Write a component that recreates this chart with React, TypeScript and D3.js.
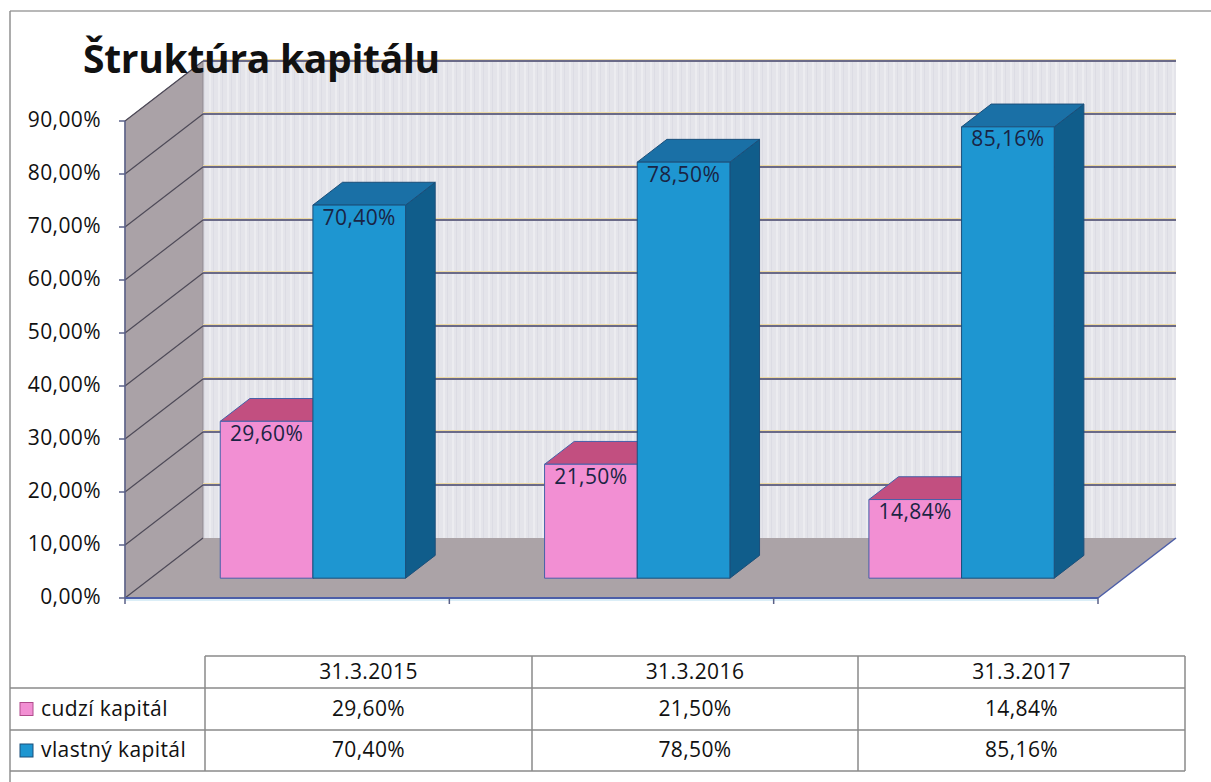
import React from "react";
import * as d3 from "d3";

const categories = ["31.3.2015", "31.3.2016", "31.3.2017"];
const cudziKapital = [29.6, 21.5, 14.84];
const vlastnyKapital = [70.4, 78.5, 85.16];
const seriesNames = ["cudzí kapitál", "vlastný kapitál"];
const yTickValues = [0, 10, 20, 30, 40, 50, 60, 70, 80, 90];
const title = "Štruktúra kapitálu";

const W = 1211;
const H = 782;
const FONT = "'Open Sans', 'Noto Sans', sans-serif";
const FS = 21;
const LS = 0.4;

const fmt = (v: number) => v.toFixed(2).replace(".", ",") + "%";

export default function App() {
  const x = d3.scaleBand<string>().domain(categories).range([125, 1098]);
  const y = d3.scaleLinear().domain([0, 90]).range([598, 121]);
  const DX = 78;
  const DY = -60;
  const sub = d3
    .scaleBand<string>()
    .domain(["c", "v"])
    .range([0, x.bandwidth()])
    .paddingInner(0)
    .paddingOuter(0.75);
  const bw = sub.bandwidth();
  const F = 0.33;
  const B = 0.71;

  const pts = (p: number[][]) => p.map((q) => q.join(",")).join(" ");

  const x0 = x.range()[0];
  const x1 = x.range()[1];
  const y0 = y(0);
  const yTop = y(90);

  const bars: any[] = [];
  const labels: any[] = [];
  categories.forEach((cat, i) => {
    const defs = [
      { key: "c", v: cudziKapital[i], front: "#f28fd3", top: "#c24f80", side: "#a83a6a", stroke: "#4660a8" },
      { key: "v", v: vlastnyKapital[i], front: "#1e96d1", top: "#1a70a6", side: "#105d8b", stroke: "#1b4f7a" },
    ];
    defs.forEach((d) => {
      const xl = (x(cat) as number) + (sub(d.key) as number);
      const xr = xl + bw;
      const yv = y(d.v);
      const front = [
        [xl + F * DX, yv + F * DY],
        [xr + F * DX, yv + F * DY],
        [xr + F * DX, y0 + F * DY],
        [xl + F * DX, y0 + F * DY],
      ];
      const top = [
        [xl + F * DX, yv + F * DY],
        [xr + F * DX, yv + F * DY],
        [xr + B * DX, yv + B * DY],
        [xl + B * DX, yv + B * DY],
      ];
      const side = [
        [xr + F * DX, yv + F * DY],
        [xr + B * DX, yv + B * DY],
        [xr + B * DX, y0 + B * DY],
        [xr + F * DX, y0 + F * DY],
      ];
      bars.push(
        <g key={cat + d.key}>
          <polygon points={pts(side)} fill={d.side} stroke={d.stroke} strokeWidth={1} />
          <polygon points={pts(top)} fill={d.top} stroke={d.stroke} strokeWidth={1} />
          <polygon points={pts(front)} fill={d.front} stroke={d.stroke} strokeWidth={1} />
        </g>
      );
      labels.push(
        <text
          key={"l" + cat + d.key}
          x={(xl + xr) / 2 + F * DX}
          y={yv + F * DY + 14}
          textAnchor="middle"
          dominantBaseline="middle"
          fontFamily={FONT}
          fontSize={FS}
          letterSpacing={LS}
          fill="#1a2444"
        >
          {fmt(d.v)}
        </text>
      );
    });
  });

  // table geometry
  const tTop = 656;
  const rowB = [656, 688, 730, 771];
  const colX = [205, 532, 858, 1185];
  const legL = 10;

  return (
    <svg
      width={W}
      height={H}
      style={{ position: "absolute", left: 0, top: 0, background: "#fff" }}
    >
      <defs>
        <pattern id="wallTex" width="9" height="20" patternUnits="userSpaceOnUse">
          <rect width="9" height="20" fill="#e4e4ea" />
          <rect x="2" width="2" height="20" fill="#ececf0" />
          <rect x="6" width="1" height="20" fill="#dcdce4" />
        </pattern>
      </defs>

      {/* outer frame */}
      <line x1={10} y1={11} x2={W} y2={11} stroke="#a0a0a0" strokeWidth={1.5} />
      <line x1={10} y1={11} x2={10} y2={H} stroke="#909090" strokeWidth={1.5} />

      {/* back wall */}
      <rect x={x0 + DX} y={yTop + DY} width={x1 - x0} height={y0 - yTop} fill="url(#wallTex)" />
      {/* side wall */}
      <polygon
        points={pts([
          [x0, yTop],
          [x0 + DX, yTop + DY],
          [x0 + DX, y0 + DY],
          [x0, y0],
        ])}
        fill="#aaa2a7"
        stroke="#8e8890"
        strokeWidth={1}
      />
      {/* floor */}
      <polygon
        points={pts([
          [x0, y0],
          [x1, y0],
          [x1 + DX, y0 + DY],
          [x0 + DX, y0 + DY],
        ])}
        fill="#aba3a7"
      />
      <line x1={x1} y1={y0} x2={x1 + DX} y2={y0 + DY} stroke="#4c5ea8" strokeWidth={1.5} />

      {/* gridlines */}
      {yTickValues.map((t) => (
        <g key={"g" + t}>
          {t > 0 && (
            <>
              <line x1={x0 + DX} x2={x1 + DX} y1={y(t) + DY - 1.5} y2={y(t) + DY - 1.5} stroke="#ecd9a2" strokeWidth={1} />
              <line x1={x0 + DX} x2={x1 + DX} y1={y(t) + DY} y2={y(t) + DY} stroke="#6a6a88" strokeWidth={2} />
            </>
          )}
          <line x1={x0} y1={y(t)} x2={x0 + DX} y2={y(t) + DY} stroke="#4e4a58" strokeWidth={1.2} />
        </g>
      ))}

      {/* y axis */}
      <line x1={x0} y1={yTop} x2={x0} y2={y0} stroke="#5a6088" strokeWidth={1.5} />
      {yTickValues.map((t) => (
        <g key={"t" + t}>
          <line x1={x0 - 6} x2={x0} y1={y(t)} y2={y(t)} stroke="#5a6088" strokeWidth={1.5} />
          <text
            x={101}
            y={y(t)}
            textAnchor="end"
            dominantBaseline="middle"
            fontFamily={FONT}
            fontSize={FS}
            letterSpacing={LS}
            fill="#111"
          >
            {fmt(t)}
          </text>
        </g>
      ))}

      {/* x axis */}
      <line x1={x0} y1={y0} x2={x1} y2={y0} stroke="#4c5ea8" strokeWidth={2} />
      <line x1={x0} y1={y0 + 2} x2={x1} y2={y0 + 2} stroke="#cfe8f5" strokeWidth={1.5} />
      {[...categories.map((c) => x(c) as number), x1].map((xx, i) => (
        <line key={"xt" + i} x1={xx} x2={xx} y1={y0} y2={y0 + 6} stroke="#5a6088" strokeWidth={1.5} />
      ))}

      {bars}
      {labels}

      {/* title */}
      <text x={83} y={73} fontFamily={FONT} fontWeight={700} fontSize={39} fill="#111" letterSpacing={-0.3}>
        {title}
      </text>

      {/* data table */}
      <g stroke="#8a8a8a" strokeWidth={1.5} fill="none">
        <line x1={colX[0]} x2={colX[3]} y1={rowB[0]} y2={rowB[0]} />
        <line x1={legL} x2={colX[3]} y1={rowB[1]} y2={rowB[1]} />
        <line x1={legL} x2={colX[3]} y1={rowB[2]} y2={rowB[2]} />
        <line x1={legL} x2={colX[3]} y1={rowB[3]} y2={rowB[3]} />
        {colX.map((cx, i) => (
          <line key={"c" + i} x1={cx} x2={cx} y1={tTop} y2={rowB[3]} />
        ))}
      </g>
      {categories.map((c, i) => (
        <text
          key={"h" + c}
          x={(colX[i] + colX[i + 1]) / 2}
          y={(rowB[0] + rowB[1]) / 2 + 1}
          textAnchor="middle"
          dominantBaseline="middle"
          fontFamily={FONT}
          fontSize={FS}
          letterSpacing={LS}
          fill="#111"
        >
          {c}
        </text>
      ))}
      {[cudziKapital, vlastnyKapital].map((arr, r) =>
        arr.map((v, i) => (
          <text
            key={"v" + r + i}
            x={(colX[i] + colX[i + 1]) / 2}
            y={(rowB[r + 1] + rowB[r + 2]) / 2 + 1}
            textAnchor="middle"
            dominantBaseline="middle"
            fontFamily={FONT}
            fontSize={FS}
            letterSpacing={LS}
            fill="#111"
          >
            {fmt(v)}
          </text>
        ))
      )}
      {seriesNames.map((s, r) => {
        const cy = (rowB[r + 1] + rowB[r + 2]) / 2;
        const colors = r === 0 ? ["#f28fd3", "#b04c8c"] : ["#1e96d1", "#1b4f7a"];
        return (
          <g key={"leg" + r}>
            <rect x={20} y={cy - 6.5} width={13} height={13} fill={colors[0]} stroke={colors[1]} strokeWidth={1} />
            <text
              x={41}
              y={cy + 1}
              dominantBaseline="middle"
              fontFamily={FONT}
              fontSize={FS}
              letterSpacing={LS}
              fill="#111"
            >
              {s}
            </text>
          </g>
        );
      })}
    </svg>
  );
}
